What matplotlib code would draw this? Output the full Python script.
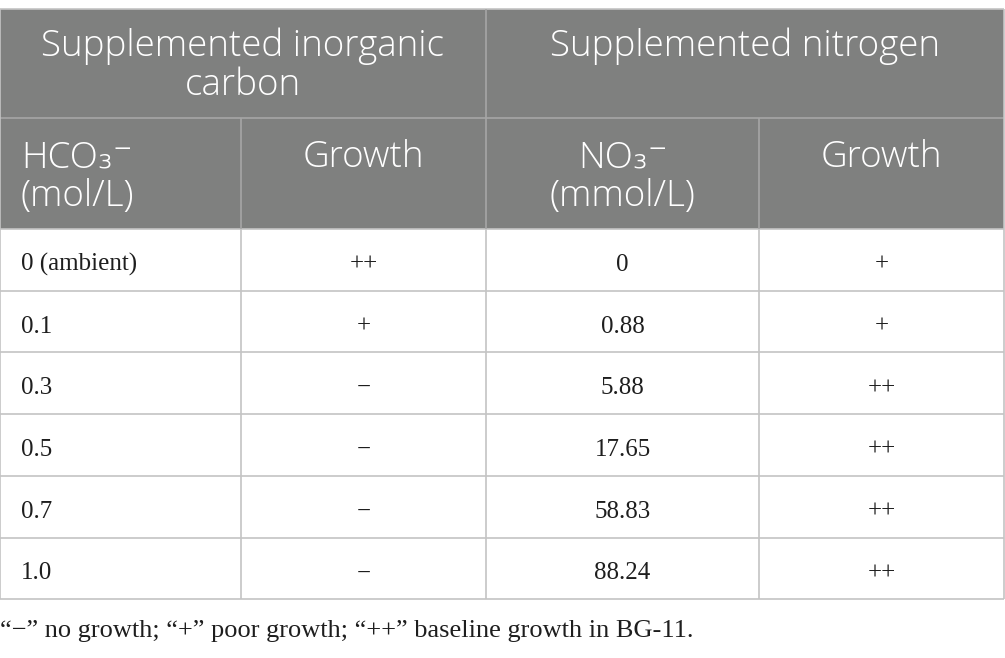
import matplotlib
matplotlib.use("Agg")
import matplotlib.pyplot as plt
from matplotlib.patches import Rectangle

# table content
group_headers = [["Supplemented inorganic", "carbon"], ["Supplemented nitrogen"]]
col_headers = [["HCO\u2083\u207b", "(mol/L)"], ["Growth"], ["NO\u2083\u207b", "(mmol/L)"], ["Growth"]]
hco3 = ["0 (ambient)", "0.1", "0.3", "0.5", "0.7", "1.0"]
growth_c = ["++", "+", "\u2212", "\u2212", "\u2212", "\u2212"]
no3 = ["0", "0.88", "5.88", "17.65", "58.83", "88.24"]
growth_n = ["+", "+", "++", "++", "++", "++"]
footnote = "\u201c\u2212\u201d no growth; \u201c+\u201d poor growth; \u201c++\u201d baseline growth in BG-11."

# layout in pixels
W, H = 1005, 658
col_x = [0, 241, 486, 759, 1004]
top = 9
head1_bot = 118
head2_bot = 229
row_h = 61.7
line_gap = 39
header_bg = "#7f807f"
line_light = "#c4c4c4"
line_head = "#a6a6a6"
text_col = "#1e1e1e"

sans = ["Open Sans", "DejaVu Sans"]
serif = ["Liberation Serif", "DejaVu Serif"]
SUP_MINUS = "\u207b"

fig = plt.figure(figsize=(W / 100, H / 100), dpi=100)
ax = fig.add_axes([0, 0, 1, 1])
ax.set_xlim(0, W)
ax.set_ylim(H, 0)
ax.axis("off")
renderer = fig.canvas.get_renderer()


def text_width(t):
    bb = t.get_window_extent(renderer=renderer)
    return bb.width


def header_line(x, y, line, ha):
    # the light face has no superscript minus, so that glyph is drawn in the regular face
    style = dict(va="baseline", color="white", fontsize=26.5, family=sans)
    if SUP_MINUS not in line:
        ax.text(x, y, line, ha=ha, fontweight="light", **style)
        return
    base = line.replace(SUP_MINUS, "")
    t1 = ax.text(0, y, base, ha="left", fontweight="light", **style)
    t2 = ax.text(0, y, SUP_MINUS, ha="left", **style)
    w1, w2 = text_width(t1), text_width(t2)
    x0 = x if ha == "left" else x - (w1 + w2) / 2
    t1.set_x(x0)
    t2.set_x(x0 + w1)


def header_lines(x, y0, lines, ha):
    for k, line in enumerate(lines):
        header_line(x, y0 + k * line_gap, line, ha)


# header background
ax.add_patch(Rectangle((col_x[0], top), col_x[-1] - col_x[0], head2_bot - top,
                       facecolor=header_bg, edgecolor="none"))

rows = list(zip(hco3, growth_c, no3, growth_n))
n = len(rows)
row_edges = [head2_bot + i * row_h for i in range(n + 1)]
bottom = row_edges[-1]

# horizontal lines
ax.hlines(top, col_x[0], col_x[-1], color=line_light, lw=1.2)
ax.hlines(head1_bot, col_x[0], col_x[-1], color=line_head, lw=1.2)
for y in row_edges:
    ax.hlines(y, col_x[0], col_x[-1], color=line_light, lw=1.2)

# vertical lines
ax.vlines([col_x[0], col_x[-1]], top, bottom, color=line_light, lw=1.2)
ax.vlines(col_x[2], top, head2_bot, color=line_head, lw=1.2)
ax.vlines([col_x[1], col_x[3]], head1_bot, head2_bot, color=line_head, lw=1.2)
ax.vlines(col_x[1:4], head2_bot, bottom, color=line_light, lw=1.2)

# group headers
header_lines((col_x[0] + col_x[2]) / 2, 56, group_headers[0], "center")
header_lines((col_x[2] + col_x[4]) / 2, 56, group_headers[1], "center")

# column headers
for j, lines in enumerate(col_headers):
    if j == 0:
        header_lines(col_x[0] + 21, 167, lines, "left")
    else:
        header_lines((col_x[j] + col_x[j + 1]) / 2, 167, lines, "center")

# body
for i, row in enumerate(rows):
    yc = (row_edges[i] + row_edges[i + 1]) / 2
    for j, val in enumerate(row):
        if j == 0:
            x, ha = col_x[0] + 21, "left"
        else:
            x, ha = (col_x[j] + col_x[j + 1]) / 2, "center"
        ax.text(x, yc + 11, val, ha=ha, va="baseline", color=text_col,
                fontsize=18, family=serif)

ax.text(0, bottom + 38, footnote, ha="left", va="baseline", color=text_col,
        fontsize=19, family=serif)

fig.savefig("out.png", dpi=100)
